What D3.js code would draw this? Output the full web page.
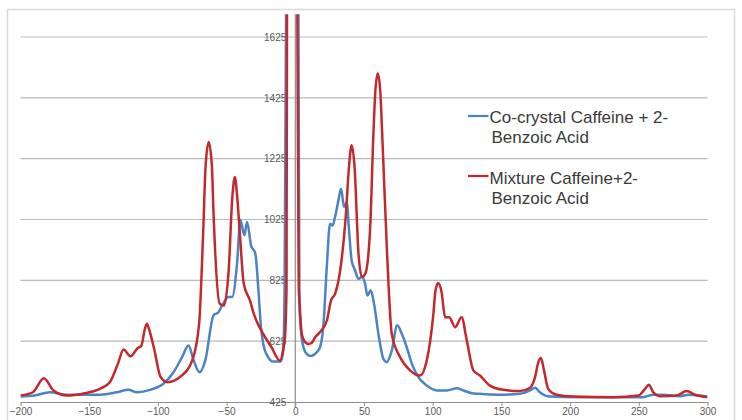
<!DOCTYPE html>
<html>
<head>
<meta charset="utf-8">
<script src="https://cdn.jsdelivr.net/npm/d3@7/dist/d3.min.js"></script>
<style>
  html, body { margin: 0; padding: 0; background: #ffffff; }
  svg { display: block; font-family: "Liberation Sans", Arial, sans-serif; }
</style>
</head>
<body>
<svg id="chart" width="742" height="420"></svg>
<script>
// ---- data ----
const blueX = [-200,-190,-178.5,-166,-142,-130,-121.4,-115.3,-105.6,-96,-88.6,-82.5,-77.7,-74,-69.7,-65.5,-59.5,-55.8,-52.6,-48.5,-46,-42.4,-40,-37.1,-35.1,-32.2,-29.1,-26.8,-25,-23.3,-19.7,-16,-10.7,-8.8,-7.8,-6.6,-3,1,2.2,3,3.4,5.4,8.3,11.2,14.3,18,20.5,22.9,25.3,27.2,28.9,31.4,33.3,35.5,37.4,39.3,41,43.5,45.9,48.4,50.8,52.5,54.9,57.3,60.5,64.1,66.5,70.2,74.2,77.5,81.1,84.8,89.6,95.7,103,110.3,117.5,122.4,128.5,134,148,163.5,170.8,174.5,178,185.3,207,253,260.5,267.7,280,286,300];
const blueY = [443,446,457,449,449,457,465,457,465,485,523,572,611,562,523,562,710,721,748,770,770,880,1024,973,1017,940,913,790,671,616,572,558,558,594,800,1800,2600,2600,1800,759,704,616,583,576,583,605,680,868,1011,1005,1033,1088,1126,1066,1082,978,890,858,830,836,814,775,792,748,649,567,556,594,677,649,605,551,507,479,463,463,470,463,454,452,449,452,463,472,457,443,441,441,449,449,444,449,443];

const redX = [-200,-191,-183,-176,-166,-154,-142,-135,-129,-125,-120,-115,-112,-109.5,-108,-106.5,-103,-98,-93,-84,-75,-70,-67,-65.3,-63,-60.7,-59.5,-55,-52,-48.5,-45.8,-44,-42.3,-40.5,-37.5,-33,-30,-23.4,-17.3,-11.2,-8.7,-7.5,-6.4,-6.0,-3,0.5,1.5,2.5,3,4.7,7.1,9.5,12,14.5,18,23,26,29,33,36.5,39.2,41,43.1,46,48.5,51,54.5,56.8,58.3,60,61.8,63.3,66.6,70.2,76.3,83.5,90.8,95.7,100.5,102,104,106.5,109,112,116.3,121,124.8,129.6,134.4,141.7,151.4,163.5,170.8,174.5,176.9,178.8,181,184.1,190.2,202.3,231.4,249.6,254.5,257.4,260.5,265.4,277.5,284.8,290.9,300];
const redY = [446,457,503,463,446,453,469,490,552,598,575,601,611,665,682,665,605,507,490,507,562,683,989,1200,1280,1200,1044,748,742,858,1100,1165,1100,989,814,759,712,649,605,561,600,640,800,1800,2600,2600,1700,800,759,649,622,616,620,638,655,693,759,781,868,1022,1205,1269,1200,913,836,847,1000,1300,1450,1505,1450,1300,934,649,572,529,512,562,715,790,816,785,704,704,671,704,627,529,512,479,465,461,472,507,556,570,529,468,449,443,441,446,468,482,457,444,446,461,449,441];

const xTicks = [-200,-150,-100,-50,0,50,100,150,200,250,300];
const yTicks = [425,625,825,1025,1225,1425,1625];
const seriesNames = ["Co-crystal Caffeine + 2-|Benzoic Acid", "Mixture Caffeine+2-|Benzoic Acid"];
const seriesColors = ["#4a84c5", "#c4282d"];

// ---- layout ----
const svg = d3.select("#chart");
const pLeft = 20.5, pRight = 707.5, pTop = 14.2, pBottom = 402;

const x = d3.scaleLinear().domain([-200, 300]).range([pLeft, pRight]);
const y = d3.scaleLinear().domain([425, 1700]).range([pBottom, pTop]);

// outer frame
svg.append("rect")
  .attr("x", 7.5).attr("y", 9.5)
  .attr("width", 727).attr("height", 420)
  .attr("fill", "#ffffff")
  .attr("stroke", "#d9d9d9").attr("stroke-width", 1.5);

// gridlines
svg.append("g").selectAll("line")
  .data(yTicks.filter(d => d > 425))
  .join("line")
  .attr("x1", pLeft).attr("x2", pRight)
  .attr("y1", d => y(d)).attr("y2", d => y(d))
  .attr("stroke", "#b9b9b9").attr("stroke-width", 1.2);

// x axis at y = 425
const xAxis = d3.axisBottom(x).tickValues(xTicks).tickSize(4).tickSizeOuter(0);
const gx = svg.append("g").attr("transform", `translate(0,${y(425)})`).call(xAxis);
gx.select(".domain").attr("stroke", "#8e8e8e").attr("stroke-width", 1.2);
gx.selectAll(".tick line").attr("stroke", "#8e8e8e");
gx.selectAll(".tick text")
  .attr("font-size", 10).attr("fill", "#595959")
  .attr("font-family", "Liberation Sans, Arial, sans-serif")
  .attr("dy", "0.9em").attr("y", 4);

// y axis at x = 0
const yAxis = d3.axisLeft(y).tickValues(yTicks).tickFormat(d3.format("d")).tickSize(0).tickPadding(9);
const gy = svg.append("g").attr("transform", `translate(${x(0)},0)`).call(yAxis);
gy.select(".domain").attr("stroke", "#8e8e8e").attr("stroke-width", 1.2)
  .attr("d", `M0,${pTop}V${pBottom + 5}`);
gy.selectAll(".tick text")
  .attr("font-size", 10).attr("fill", "#595959")
  .attr("font-family", "Liberation Sans, Arial, sans-serif");

// clip
svg.append("defs").append("clipPath").attr("id", "plotclip")
  .append("rect").attr("x", pLeft).attr("y", pTop)
  .attr("width", pRight - pLeft).attr("height", pBottom - pTop);

const line = d3.line().x(d => x(d[0])).y(d => y(d[1])).curve(d3.curveMonotoneX);

const series = [
  d3.zip(blueX, blueY),
  d3.zip(redX, redY)
];

const plot = svg.append("g").attr("clip-path", "url(#plotclip)");
series.forEach((s, i) => {
  plot.append("path")
    .datum(s)
    .attr("d", line)
    .attr("fill", "none")
    .attr("stroke", seriesColors[i])
    .attr("stroke-width", 2.5)
    .attr("stroke-linejoin", "round");
});

// legend
const legendRows = [{ly: 116, base: 123.3}, {ly: 176, base: 184}];
seriesNames.forEach((name, i) => {
  const g = svg.append("g");
  g.append("line")
    .attr("x1", 468).attr("x2", 488.5)
    .attr("y1", legendRows[i].ly).attr("y2", legendRows[i].ly)
    .attr("stroke", seriesColors[i]).attr("stroke-width", 2.2);
  const parts = name.split("|");
  parts.forEach((p, j) => {
    g.append("text")
      .attr("x", 489.5 + (j ? 2 : 0))
      .attr("y", legendRows[i].base + j * 20)
      .attr("font-size", 17)
      .attr("fill", "#3a3a3a")
      .text(p);
  });
});
</script>
</body>
</html>
